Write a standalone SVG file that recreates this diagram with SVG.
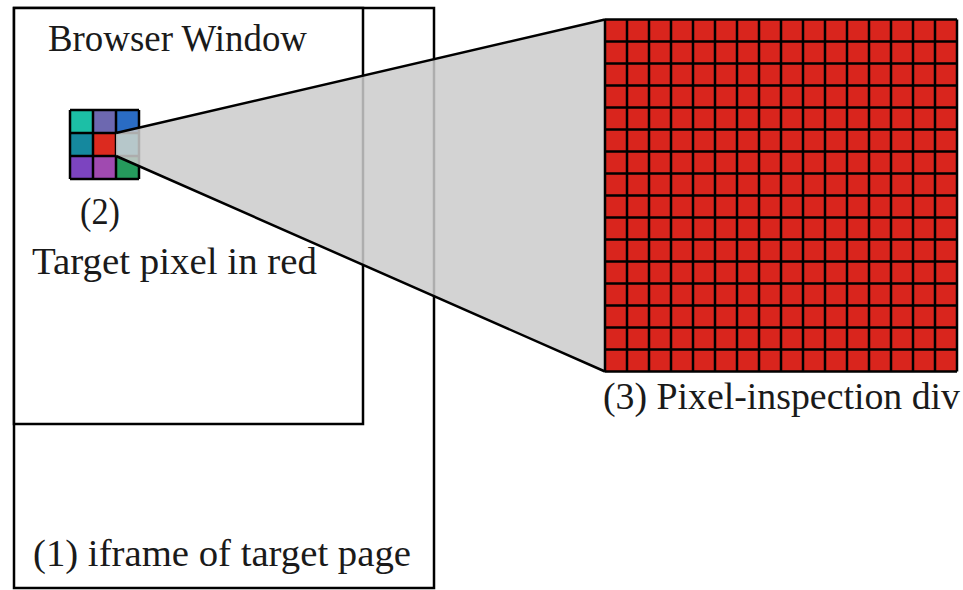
<svg xmlns="http://www.w3.org/2000/svg" width="963" height="590" viewBox="0 0 963 590">
  <style>
    .frame { fill: #ffffff; stroke: #000000; stroke-width: 2.5; }
    .lbl { font-family: "Liberation Serif", "Times New Roman", serif; font-size: 38px; fill: #1a1a1a; }
    .grid { fill: none; stroke: #000000; stroke-width: 2.5; }
    .cone { fill: #cbcbcb; fill-opacity: 0.85; stroke: none; }
    .edge { stroke: #000000; stroke-width: 2.5; fill: none; }
  </style>
  <rect width="963" height="590" fill="#ffffff"/>

  <g id="iframe">
    <rect class="frame" x="14" y="8" width="420" height="580"/>
    <text class="lbl" x="33" y="566" textLength="378" lengthAdjust="spacingAndGlyphs">(1) iframe of target page</text>
  </g>

  <g id="browser-window">
    <rect class="frame" x="14" y="8" width="349" height="416"/>
    <text class="lbl" x="48" y="51" textLength="259" lengthAdjust="spacingAndGlyphs">Browser Window</text>
  </g>

  <g id="target-pixel">
    <rect x="70" y="110" width="23" height="23" fill="#1cbfa6"/>
    <rect x="93" y="110" width="23" height="23" fill="#6d68b0"/>
    <rect x="116" y="110" width="23" height="23" fill="#2a6cc4"/>
    <rect x="70" y="133" width="23" height="23" fill="#15889e"/>
    <rect x="93" y="133" width="23" height="23" fill="#dc2a1f"/>
    <rect x="116" y="133" width="23" height="23" fill="#40b0c0"/>
    <rect x="70" y="156" width="23" height="23" fill="#7c44c0"/>
    <rect x="93" y="156" width="23" height="23" fill="#a04ab0"/>
    <rect x="116" y="156" width="23" height="23" fill="#259a5c"/>
    <path class="grid" d="M70 110H139M70 133H139M70 156H139M70 179H139M70 110V179M93 110V179M116 110V179M139 110V179"/>
    <text class="lbl" x="100" y="224" text-anchor="middle" textLength="40" lengthAdjust="spacingAndGlyphs">(2)</text>
    <text class="lbl" x="32" y="274" textLength="285" lengthAdjust="spacingAndGlyphs">Target pixel in red</text>
  </g>

  <g id="connectors">
    <polygon class="cone" points="116,133 605,19.5 605,371.5 116,156"/>
    <path class="edge" d="M116 133L605 19.5M116 156L605 371.5"/>
  </g>

  <g id="inspection-div">
    <rect x="605" y="19.5" width="352" height="352" fill="#d9251d"/>
    <path class="grid" d="M605 19.5H957M605 41.5H957M605 63.5H957M605 85.5H957M605 107.5H957M605 129.5H957M605 151.5H957M605 173.5H957M605 195.5H957M605 217.5H957M605 239.5H957M605 261.5H957M605 283.5H957M605 305.5H957M605 327.5H957M605 349.5H957M605 371.5H957M605 19.5V371.5M627 19.5V371.5M649 19.5V371.5M671 19.5V371.5M693 19.5V371.5M715 19.5V371.5M737 19.5V371.5M759 19.5V371.5M781 19.5V371.5M803 19.5V371.5M825 19.5V371.5M847 19.5V371.5M869 19.5V371.5M891 19.5V371.5M913 19.5V371.5M935 19.5V371.5M957 19.5V371.5"/>
    <text class="lbl" x="603" y="409" textLength="357" lengthAdjust="spacingAndGlyphs">(3) Pixel-inspection div</text>
  </g>
</svg>
